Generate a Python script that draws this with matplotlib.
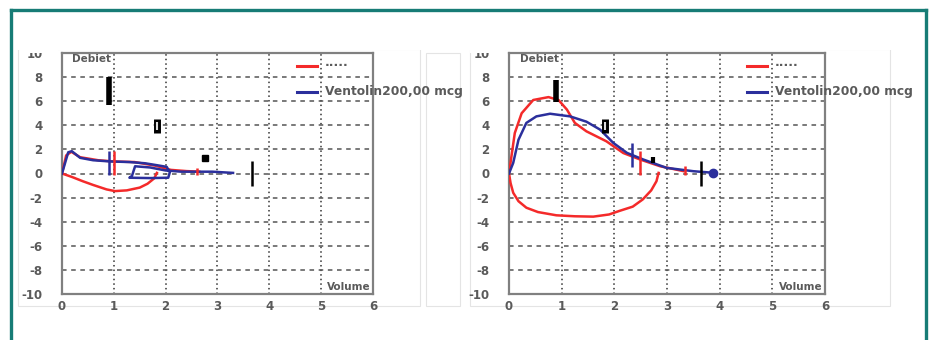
import matplotlib
matplotlib.use("Agg")
import matplotlib.pyplot as plt
from matplotlib.lines import Line2D
from matplotlib.patches import Rectangle

# ---- data ----
# left panel
left_red_x = [1.83, 1.78, 1.65, 1.5, 1.25, 1.02, 0.86, 0.6, 0.4, 0.2, 0.0, 0.08, 0.18, 0.35, 0.7, 1.0, 1.4,
              1.8, 2.1, 2.4, 2.65]
left_red_y = [0.05, -0.4, -0.85, -1.17, -1.4, -1.46, -1.32, -0.95, -0.64, -0.3, 0.0, 1.5, 1.8, 1.35, 1.1, 1.0,
              0.95, 0.65, 0.3, 0.2, 0.15]
left_blue_x = [0.0, 0.12, 0.19, 0.35, 0.6, 0.93, 1.3, 1.6, 1.83, 2.02, 2.08, 2.05, 1.7, 1.3, 1.35, 1.41, 1.7,
               2.0, 2.3, 2.6, 2.9, 3.1, 3.3]
left_blue_y = [0.0, 1.76, 1.85, 1.3, 1.1, 1.0, 0.95, 0.85, 0.69, 0.55, 0.1, -0.35, -0.38, -0.35, -0.2, 0.6,
               0.5, 0.25, 0.15, 0.15, 0.15, 0.1, 0.05]

# right panel
right_red_x = [2.84, 2.8, 2.7, 2.54, 2.35, 2.1, 1.9, 1.6, 1.25, 0.9, 0.55, 0.33, 0.18, 0.08, 0.03, 0.0,
               0.11, 0.24, 0.46, 0.75, 0.94, 1.1, 1.25, 1.47, 1.85, 2.17, 2.49, 2.87, 3.31]
right_red_y = [0.05, -0.64, -1.4, -2.15, -2.75, -3.1, -3.4, -3.58, -3.55, -3.47, -3.2, -2.84, -2.3, -1.6,
               -0.8, 0.0, 3.36, 5.0, 6.1, 6.34, 6.1, 5.3, 4.2, 3.5, 2.67, 1.7, 1.16, 0.6, 0.2]
right_blue_x = [0.0, 0.08, 0.18, 0.33, 0.52, 0.78, 1.16, 1.47, 1.73, 1.98, 2.24, 2.55, 2.99, 3.5, 3.88]
right_blue_y = [0.0, 0.88, 2.8, 4.2, 4.74, 4.96, 4.74, 4.3, 3.64, 2.54, 1.71, 1.16, 0.47, 0.19, 0.06]

# reference markers: (x, y_low, y_high)
left_bar_black = (0.9, 5.7, 8.0)
left_box_black = (1.83, 3.4, 4.5)
left_tick_black = (3.67, -1.05, 1.0)
left_tick_blue = (0.9, -0.1, 1.85)
left_tick_red = (1.01, -0.1, 1.85)
left_tick_red_small = (2.6, -0.1, 0.45)
left_square = (2.76, 1.3)

right_bar_black = (0.9, 5.9, 7.8)
right_box_black = (1.82, 3.4, 4.5)
right_tick_black = (3.65, -1.05, 1.0)
right_small_black = (2.74, 0.9, 1.4)
right_tick_blue = (2.34, 0.5, 2.55)
right_tick_red = (2.49, -0.1, 1.85)
right_tick_red_small = (3.35, -0.1, 0.6)
right_dot = (3.88, 0.05)

legend_labels = ["·····", "Ventolin200,00 mcg"]
x_ticks = [0, 1, 2, 3, 4, 5, 6]
y_ticks = [10, 8, 6, 4, 2, 0, -2, -4, -6, -8, -10]

RED = "#f42a2a"
BLUE = "#2b2f9c"
TXT = "#5a5a5a"

W, H = 931, 340
fig = plt.figure(figsize=(W / 100, H / 100), dpi=100)


def px_axes(x0, x1, y0, y1):
    return fig.add_axes([x0 / W, 1 - y1 / H, (x1 - x0) / W, (y1 - y0) / H])


def style(ax):
    ax.set_xlim(0, 6)
    ax.set_ylim(-10, 10)
    ax.set_xticks(x_ticks)
    ax.set_yticks(y_ticks)
    ax.set_yticklabels([str(v) for v in y_ticks])
    ax.tick_params(length=0, labelsize=8.5, labelcolor=TXT)
    ax.tick_params(axis="y", pad=14)
    ax.tick_params(axis="x", pad=4)
    for lab in ax.get_xticklabels() + ax.get_yticklabels():
        lab.set_fontweight("bold")
    for s in ax.spines.values():
        s.set_color("#808080")
        s.set_linewidth(1.6)
    for v in x_ticks[1:-1]:
        ax.axvline(v, color="#333333", lw=1.1, ls=(0, (1, 2)), zorder=1)
    for v in y_ticks[1:-1]:
        ax.axhline(v, color="#555555", lw=1.1, ls=(0, (3, 3)), zorder=1)
    ax.text(0.2, 9.5, "Debiet", fontsize=7.5, fontweight="bold", color=TXT, va="center")
    ax.text(5.95, -9.4, "Volume", fontsize=7.5, fontweight="bold", color=TXT, va="center", ha="right")


def vtick(ax, m, color, lw):
    ax.plot([m[0], m[0]], [m[1], m[2]], color=color, lw=lw, solid_capstyle="butt", zorder=4)


def box(ax, m):
    ax.plot([m[0], m[0]], [m[1], m[2]], color="black", lw=5, solid_capstyle="butt", zorder=4)
    ax.plot([m[0], m[0]], [m[1] + 0.2, m[2] - 0.2], color="#dddddd", lw=1.5, solid_capstyle="butt", zorder=5)


def legend(xoff):
    for y, c, lab in [(66, RED, legend_labels[0]), (92, BLUE, legend_labels[1])]:
        fig.add_artist(Line2D([xoff / W, (xoff + 20) / W], [1 - y / H, 1 - y / H], color=c, lw=2.2))
        fig.text((xoff + 28) / W, 1 - y / H, lab, fontsize=8.8, fontweight="bold", color=TXT, va="center")


# left panel
axl = px_axes(62, 373, 53, 294)
style(axl)
axl.plot(left_red_x, left_red_y, color=RED, lw=1.8, zorder=3)
axl.plot(left_blue_x, left_blue_y, color=BLUE, lw=1.8, zorder=3)
vtick(axl, left_bar_black, "black", 4)
box(axl, left_box_black)
vtick(axl, left_tick_black, "black", 1.8)
vtick(axl, left_tick_blue, BLUE, 1.8)
vtick(axl, left_tick_red, RED, 1.8)
vtick(axl, left_tick_red_small, RED, 1.8)
axl.plot(*left_square, marker="s", color="black", ms=4, zorder=4)
legend(297)

# right panel
axr = px_axes(509, 825, 53, 294)
style(axr)
axr.plot(right_red_x, right_red_y, color=RED, lw=1.8, zorder=3)
axr.plot(right_blue_x, right_blue_y, color=BLUE, lw=1.8, zorder=3)
vtick(axr, right_bar_black, "black", 4)
box(axr, right_box_black)
vtick(axr, right_tick_black, "black", 1.8)
vtick(axr, right_small_black, "black", 3)
vtick(axr, right_tick_blue, BLUE, 1.8)
vtick(axr, right_tick_red, RED, 1.8)
vtick(axr, right_tick_red_small, RED, 1.8)
axr.plot(*right_dot, marker="o", color=BLUE, ms=6, zorder=4)
legend(747)

# faint frames of the pasted images
for (xa, xb, ya, yb) in [(18, 420, 49, 306), (426, 460, 53, 306), (470, 890, 49, 306)]:
    fig.add_artist(Rectangle((xa / W, 1 - yb / H), (xb - xa) / W, (yb - ya) / H, fill=False,
                             ec="#e4e4e4", lw=0.8, zorder=0))

# cropped top of the pasted images (cuts the "10" labels)
fig.add_artist(Rectangle((14 / W, 1 - 50 / H), 910 / W, 37 / H, fc="white", ec="none", zorder=10))
for xa, xb in [(20, 58), (470, 505)]:
    fig.add_artist(Rectangle((xa / W, 1 - 53 / H), (xb - xa) / W, 4 / H, fc="white", ec="none", zorder=10))

# teal border
teal = "#177c76"
for xs, ys in [([11, 11], [10, 340]), ([11, 926], [10, 10]), ([926, 926], [10, 340])]:
    fig.add_artist(Line2D([x / W for x in xs], [1 - y / H for y in ys], color=teal, lw=2.4, zorder=11))

fig.savefig("out.png", dpi=100)
